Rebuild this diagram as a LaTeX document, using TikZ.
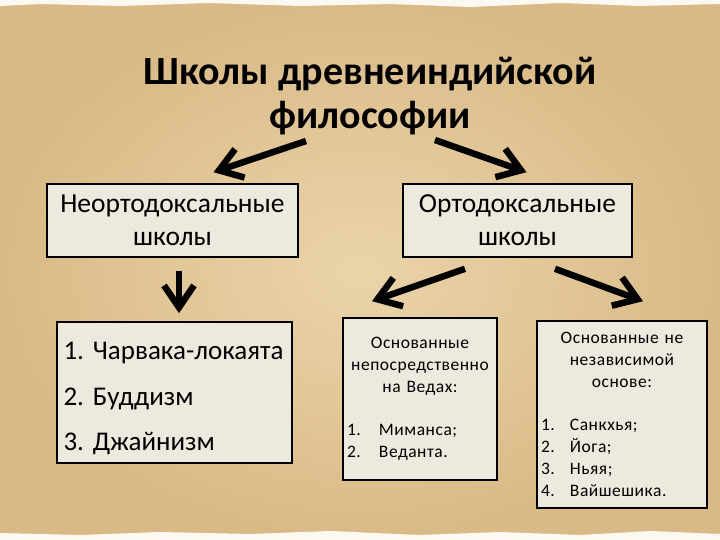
\documentclass[tikz,border=0pt]{standalone}
\usepackage{fontspec}
\setmainfont{Carlito}
\newfontfamily\spacedfont[LetterSpace=3]{Carlito}
\usetikzlibrary{arrows.meta,positioning,calc}
\definecolor{paperlight}{HTML}{EBD4AA}
\definecolor{paperedge}{HTML}{D9BA86}
\definecolor{boxfill}{HTML}{EEE9DF}

\tikzset{
  schoolbox/.style={draw=black,line width=1.6pt,fill=boxfill,align=center,inner ysep=0pt},
  fatarrow/.style={line width=6.5pt,-{Straight Barb[length=22pt,width=30pt]}},
}

\begin{document}
\begin{tikzpicture}[x=1pt,y=-1pt]
      % paper background
      \useasboundingbox (0,0) rectangle (720,540);
      \shade[inner color=paperlight,outer color=paperedge] (0,0) rectangle (720,540);
      \fill[white!85!paperlight] (0,0) -- (720,0) -- (720,4) -- (640,6) -- (560,3)
        -- (470,7) -- (390,4) -- (300,6) -- (210,3) -- (120,6) -- (40,4) -- (0,6) -- cycle;
      \fill[white!85!paperlight] (0,540) -- (720,540) -- (720,534) -- (650,531) -- (580,535)
        -- (500,532) -- (420,535) -- (330,531) -- (250,534) -- (160,532) -- (80,535) -- (0,533) -- cycle;

      \node[font=\bfseries\fontsize{40}{44}\selectfont,align=center,inner sep=0pt,
            anchor=south] (title) at (370,135) {Школы древнеиндийской\\философии};

      \node[schoolbox,font=\fontsize{27.5}{33}\selectfont,minimum width=251pt,
            minimum height=73pt] (heter) at (172.5,220.5) {Неортодоксальные\\школы};
      \node[schoolbox,font=\fontsize{27.5}{33}\selectfont,minimum width=229pt,
            minimum height=73pt] (orth) at (517.5,220.5) {Ортодоксальные\\школы};

      \node[schoolbox,font=\frenchspacing\fontsize{27}{30}\selectfont,align=left,text width=222pt,
            inner xsep=6.5pt,minimum height=141pt] (heterlist) at (174.5,392.5) {
        \rule{0pt}{30pt}1. Чарвака-локаята\\[16pt]
        2. Буддизм\\[15pt]
        3. Джайнизм
      };
      \node[schoolbox,font=\spacedfont\fontsize{17.5}{22}\selectfont,text width=146pt,
            inner xsep=4pt,minimum height=162pt] (vedic) at (420,399) {
        Основанные\\ непосредственно\\ на Ведах:\\[21pt]
        \makebox[\linewidth][l]{\makebox[32pt][l]{1.}Миманса;}\\
        \makebox[\linewidth][l]{\makebox[32pt][l]{2.}Веданта.}
      };
      \node[schoolbox,font=\spacedfont\fontsize{17.5}{22}\selectfont,text width=162pt,
            inner xsep=4pt,minimum height=187pt] (indep) at (622,414.5) {
        Основанные не\\ независимой\\ основе:\\[21pt]
        \makebox[\linewidth][l]{\makebox[29pt][l]{1.}Санкхья;}\\
        \makebox[\linewidth][l]{\makebox[29pt][l]{2.}Йога;}\\
        \makebox[\linewidth][l]{\makebox[29pt][l]{3.}Ньяя;}\\
        \makebox[\linewidth][l]{\makebox[29pt][l]{4.}Вайшешика.}
      };

      % arrows
      \draw[fatarrow] ($(title.south)+(-64,6)$) -- ($(heter.north)+(41,-11)$);
      \draw[fatarrow] ($(title.south)+(65,5)$) -- ($(orth.north)+(9,-11)$);
      \draw[fatarrow] ($(heter.south)+(6.5,13)$) -- ($(heterlist.north)+(4.5,-8)$);
      \draw[fatarrow] ($(orth.south)+(-52.5,11)$) -- ($(vedic.north)+(-48,-16)$);
      \draw[fatarrow] ($(orth.south)+(37.5,11)$) -- ($(indep.north)+(21,-19)$);
    \end{tikzpicture}
\end{document}
